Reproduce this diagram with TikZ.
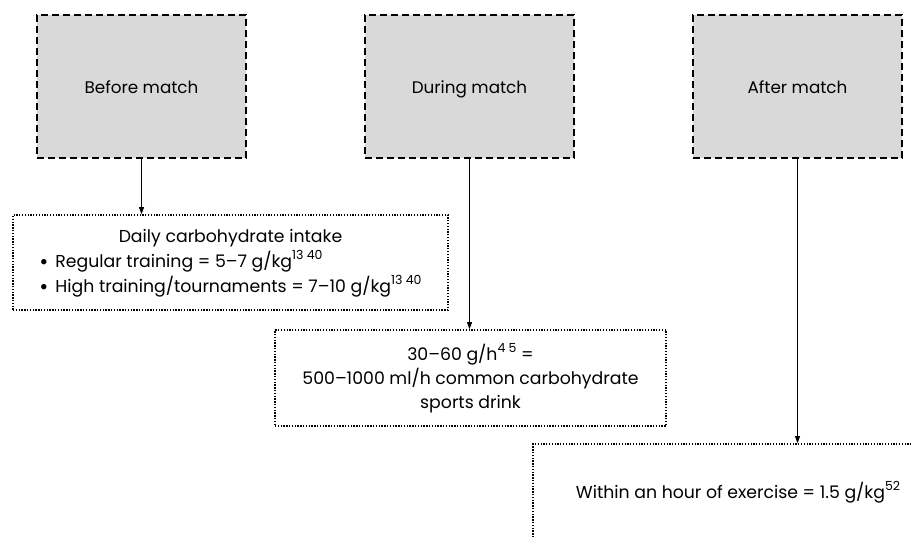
\documentclass[tikz,border=0pt]{standalone}
\usepackage{fontspec}
\setmainfont{Poppins}
\usetikzlibrary{arrows.meta}
\newcommand{\supr}[1]{\raisebox{0.45em}{\fontsize{12.5}{12.5}\selectfont #1}}
\newcommand{\bul}{\raisebox{-0.12em}{\fontsize{22}{22}\selectfont\textbullet}\hspace{0.4em}}
\tikzset{
  phase/.style={draw=black, line width=1.9pt, dash pattern=on 7pt off 4pt, fill=gray!30,
    minimum width=209pt, minimum height=143pt, inner sep=0pt, text height=15pt, text depth=1pt,
    font=\fontsize{16.8}{20}\selectfont},
  info/.style={draw=black, line width=1.7pt, dash pattern=on 1.3pt off 1.5pt, fill=white,
    inner sep=0pt, font=\fontsize{17.3}{24}\selectfont, align=center},
  arr/.style={draw=black, line width=0.7pt, -{Triangle[length=7pt,width=5pt]}},
}
\begin{document}
\begin{tikzpicture}[x=1pt,y=-1pt]
\useasboundingbox (0,0) rectangle (911,536);
\clip (0,0) rectangle (911,536);
\node[phase] (before) at (141.5,86.5) {Before match};
\node[phase] (during) at (469.5,86.5) {During match};
\node[phase] (after)  at (797.5,86.5) {After match};
\node[info, minimum width=435pt, minimum height=95pt] (box1) at (230.5,262.5)
  {\begin{tabular}{@{}l@{}}\multicolumn{1}{c}{Daily carbohydrate intake}\\[0.5pt]
   \bul Regular training = 5–7 g/kg\supr{13 40}\\[0.5pt]
   \bul High training/tournaments = 7–10 g/kg\supr{13 40}\end{tabular}};
\node[info, minimum width=391pt, minimum height=96pt] (box2) at (470.5,378)
  {30–60 g/h\supr{4 5} =\\500–1000 ml/h common carbohydrate\\sports drink};
\node[info, minimum width=410pt, minimum height=96pt] (box3) at (738,492)
  {Within an hour of exercise = 1.5 g/kg\supr{52}};
\draw[arr] (before.south) -- (before.south |- box1.north);
\draw[arr] (during.south) -- (during.south |- box2.north);
\draw[arr] (after.south) -- (after.south |- box3.north);
\end{tikzpicture}
\end{document}
